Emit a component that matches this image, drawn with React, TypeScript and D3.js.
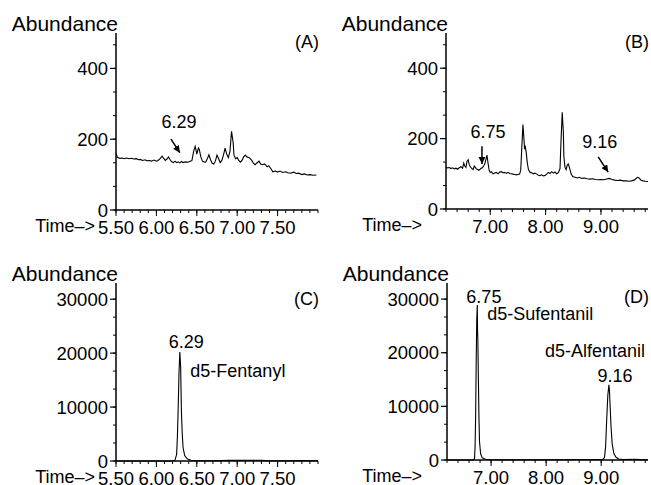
import { useEffect, useRef } from "react";
import * as d3 from "d3";

// chromatogram traces, [time (min), abundance]
const traceA: [number, number][] = [
  [5.5, 160], [5.52, 148], [5.55, 146], [5.58, 147], [5.6, 145], [5.63, 147], [5.66, 145], [5.69, 146],
  [5.72, 144], [5.75, 145], [5.78, 142], [5.8, 143], [5.83, 140], [5.86, 142], [5.88, 139], [5.91, 140],
  [5.94, 138], [5.97, 141], [6.0, 138], [6.02, 140], [6.05, 146], [6.07, 152], [6.09, 146], [6.11, 140],
  [6.13, 144], [6.15, 150], [6.17, 142], [6.19, 136], [6.21, 134], [6.23, 138], [6.25, 134], [6.27, 136],
  [6.29, 133], [6.31, 137], [6.33, 134], [6.36, 136], [6.39, 135], [6.42, 138], [6.44, 140], [6.46, 165],
  [6.48, 180], [6.49, 170], [6.5, 158], [6.52, 175], [6.53, 172], [6.55, 150], [6.57, 138], [6.59, 136],
  [6.61, 135], [6.63, 145], [6.65, 156], [6.67, 142], [6.69, 132], [6.71, 130], [6.73, 138], [6.75, 155],
  [6.77, 145], [6.79, 134], [6.81, 140], [6.83, 155], [6.85, 175], [6.87, 158], [6.89, 148], [6.91, 165],
  [6.93, 222], [6.95, 190], [6.96, 155], [6.98, 145], [7.0, 148], [7.02, 140], [7.04, 135], [7.06, 140],
  [7.08, 150], [7.1, 155], [7.12, 150], [7.15, 148], [7.18, 140], [7.2, 132], [7.22, 128], [7.24, 132],
  [7.27, 138], [7.29, 130], [7.31, 128], [7.34, 130], [7.37, 122], [7.39, 125], [7.42, 116], [7.44, 108],
  [7.47, 110], [7.5, 107], [7.53, 110], [7.56, 106], [7.6, 108], [7.63, 105], [7.66, 104], [7.7, 107],
  [7.73, 103], [7.76, 104], [7.8, 100], [7.83, 102], [7.87, 99], [7.9, 100], [7.94, 98], [7.98, 99],
];

const traceB: [number, number][] = [
  [6.2, 118], [6.23, 117], [6.26, 118], [6.29, 115], [6.32, 117], [6.35, 114], [6.38, 116], [6.41, 113],
  [6.44, 117], [6.47, 120], [6.5, 116], [6.52, 130], [6.54, 122], [6.56, 118], [6.58, 136], [6.6, 140],
  [6.62, 126], [6.64, 120], [6.66, 116], [6.69, 112], [6.71, 122], [6.73, 118], [6.75, 114], [6.77, 112],
  [6.79, 110], [6.81, 112], [6.83, 115], [6.86, 118], [6.88, 122], [6.9, 128], [6.92, 140], [6.94, 153],
  [6.96, 130], [6.98, 110], [7.0, 104], [7.02, 106], [7.05, 100], [7.08, 102], [7.11, 104], [7.14, 100],
  [7.17, 105], [7.2, 106], [7.23, 103], [7.26, 104], [7.29, 101], [7.32, 104], [7.35, 101], [7.38, 100],
  [7.41, 99], [7.44, 98], [7.47, 97], [7.5, 98], [7.53, 99], [7.55, 110], [7.57, 175], [7.59, 240],
  [7.61, 195], [7.62, 170], [7.63, 180], [7.65, 160], [7.67, 130], [7.69, 112], [7.72, 104], [7.75, 103],
  [7.78, 100], [7.81, 102], [7.84, 99], [7.87, 96], [7.9, 95], [7.93, 97], [7.96, 94], [7.99, 95],
  [8.02, 99], [8.05, 104], [8.08, 101], [8.11, 106], [8.14, 102], [8.17, 105], [8.2, 100], [8.23, 103],
  [8.26, 115], [8.28, 200], [8.3, 275], [8.32, 220], [8.33, 150], [8.35, 118], [8.37, 112], [8.39, 125],
  [8.41, 128], [8.43, 118], [8.46, 100], [8.49, 92], [8.53, 90], [8.57, 88], [8.61, 90], [8.65, 87],
  [8.7, 88], [8.75, 86], [8.8, 85], [8.85, 86], [8.9, 84], [8.95, 83], [9.0, 84], [9.05, 83], [9.1, 85],
  [9.15, 87], [9.2, 84], [9.25, 82], [9.3, 81], [9.35, 82], [9.4, 80], [9.45, 80], [9.5, 79], [9.55, 80],
  [9.6, 82], [9.63, 86], [9.66, 90], [9.69, 88], [9.72, 82], [9.76, 80], [9.8, 79], [9.85, 78],
];

const traceC: [number, number][] = [
  [5.5, 0], [6.2, 0], [6.23, 150], [6.25, 1200], [6.26, 4500], [6.27, 10000], [6.28, 16500], [6.29, 20200],
  [6.3, 17500], [6.305, 13000], [6.31, 9000], [6.32, 5000], [6.33, 2500], [6.35, 1000], [6.38, 400],
  [6.43, 150], [6.5, 60], [6.7, 60], [6.9, 120], [7.1, 150], [7.3, 140], [7.4, 60], [7.6, 40], [7.8, 100], [8.0, 60],
];

const traceD: [number, number][] = [
  [6.2, 0], [6.68, 0], [6.7, 300], [6.71, 2500], [6.72, 8000], [6.73, 18000], [6.74, 26000], [6.75, 28900],
  [6.755, 24000], [6.76, 22500], [6.77, 15000], [6.78, 8000], [6.79, 3500], [6.81, 1200], [6.84, 400],
  [6.9, 150], [7.0, 60], [8.0, 40], [8.6, 80], [8.9, 100], [9.03, 60], [9.06, 500], [9.08, 2500],
  [9.1, 7500], [9.12, 12000], [9.14, 14000], [9.15, 13000], [9.16, 10500], [9.18, 6000], [9.2, 3000],
  [9.23, 1200], [9.27, 500], [9.32, 200], [9.4, 100], [9.6, 120], [9.85, 60],
];

// tick labels
const xLabelsAC = ["5.50", "6.00", "6.50", "7.00", "7.50"];
const xLabelsBD = ["7.00", "8.00", "9.00"];
const yLabelsAB = ["0", "200", "400"];
const yLabelsCD = ["0", "10000", "20000", "30000"];

// peak annotations: [text, time, abundance]
const notesA: [string, number, number][] = [["6.29", 6.28, 232]];
const notesB: [string, number, number][] = [["6.75", 6.96, 202], ["9.16", 8.98, 173]];
const notesC: [string, number, number][] = [["6.29", 6.37, 20950]];
const notesD: [string, number, number][] = [["6.75", 6.87, 29270], ["9.16", 9.25, 14540]];
// compound names: [text, time, abundance] (left aligned)
const namesC: [string, number, number][] = [["d5-Fentanyl", 6.42, 15570]];
const namesD: [string, number, number][] = [["d5-Sufentanil", 6.93, 26100], ["d5-Alfentanil", 7.98, 19200]];
// arrows: [t0, v0, t1, v1]
const arrowsA: [number, number, number, number][] = [[6.18, 200, 6.29, 162]];
const arrowsB: [number, number, number, number][] = [[6.85, 178, 6.85, 128], [8.95, 148, 9.13, 105]];

const FONT = "'Liberation Sans', Arial, Helvetica, sans-serif";

const panels = [
  { tag: "(A)", trace: traceA, xd: [5.5, 8.0], yd: [0, 500], xr: [116, 318], yr: [210, 33], timeX: 95,
    xl: xLabelsAC, xMinor: 0.1, yl: yLabelsAB, yStep: 200, notes: notesA, names: [], arrows: arrowsA, tagY: 48 },
  { tag: "(B)", trace: traceB, xd: [6.2, 9.85], yd: [0, 500], xr: [446, 648], yr: [209, 33], timeX: 422,
    xl: xLabelsBD, xMinor: 0.2, yl: yLabelsAB, yStep: 200, notes: notesB, names: [], arrows: arrowsB, tagY: 48 },
  { tag: "(C)", trace: traceC, xd: [5.5, 8.0], yd: [0, 33000], xr: [116, 318], yr: [461, 283], timeX: 95,
    xl: xLabelsAC, xMinor: 0.1, yl: yLabelsCD, yStep: 10000, notes: notesC, names: namesC, arrows: [], tagY: 305 },
  { tag: "(D)", trace: traceD, xd: [6.2, 9.85], yd: [0, 33000], xr: [447, 648], yr: [460, 283], timeX: 422,
    xl: xLabelsBD, xMinor: 0.2, yl: yLabelsCD, yStep: 10000, notes: notesD, names: namesD, arrows: [], tagY: 303 },
];

const App = () => {
  const svgRef = useRef<SVGSVGElement>(null);

  useEffect(() => {
    const svg = d3.select(svgRef.current);
    svg.selectAll("*").remove();

    svg.append("defs").append("marker")
      .attr("id", "head")
      .attr("viewBox", "0 0 10 10")
      .attr("refX", 10).attr("refY", 5)
      .attr("markerWidth", 7).attr("markerHeight", 7)
      .attr("markerUnits", "userSpaceOnUse")
      .attr("orient", "auto")
      .append("path").attr("d", "M0,0 L10,5 L0,10 z").attr("fill", "#000");

    panels.forEach((p) => {
      const x = d3.scaleLinear().domain(p.xd).range(p.xr);
      const y = d3.scaleLinear().domain(p.yd).range(p.yr);
      const g = svg.append("g").attr("font-family", FONT).attr("fill", "#000");

      // axis lines
      g.append("line").attr("x1", p.xr[0]).attr("x2", p.xr[0]).attr("y1", p.yr[0]).attr("y2", p.yr[1])
        .attr("stroke", "#000").attr("stroke-width", 1.5);
      g.append("line").attr("x1", p.xr[0]).attr("x2", p.xr[1]).attr("y1", p.yr[0]).attr("y2", p.yr[0])
        .attr("stroke", "#000").attr("stroke-width", 1.5);

      // x ticks
      const xMinors = d3.range(p.xd[0], p.xd[1] + 1e-6, p.xMinor);
      g.selectAll(".xmin").data(xMinors).enter().append("line")
        .attr("x1", (d) => x(d)).attr("x2", (d) => x(d))
        .attr("y1", p.yr[0]).attr("y2", p.yr[0] + 3)
        .attr("stroke", "#000").attr("stroke-width", 1);
      g.selectAll(".xmaj").data(p.xl).enter().append("line")
        .attr("x1", (d) => x(+d)).attr("x2", (d) => x(+d))
        .attr("y1", p.yr[0]).attr("y2", p.yr[0] + 6)
        .attr("stroke", "#000").attr("stroke-width", 1);
      g.selectAll(".xlab").data(p.xl).enter().append("text")
        .attr("x", (d) => x(+d)).attr("y", p.yr[0] + 24)
        .attr("text-anchor", "middle").attr("font-size", 18.5).text((d) => d);

      // y ticks
      const yMinors = d3.range(p.yd[0], p.yd[1], p.yStep / 3);
      g.selectAll(".ymin").data(yMinors).enter().append("line")
        .attr("x1", p.xr[0] - 3).attr("x2", p.xr[0])
        .attr("y1", (d) => y(d)).attr("y2", (d) => y(d))
        .attr("stroke", "#000").attr("stroke-width", 1);
      g.selectAll(".ymaj").data(p.yl).enter().append("line")
        .attr("x1", p.xr[0] - 6).attr("x2", p.xr[0])
        .attr("y1", (d) => y(+d)).attr("y2", (d) => y(+d))
        .attr("stroke", "#000").attr("stroke-width", 1.2);
      g.selectAll(".ylab").data(p.yl).enter().append("text")
        .attr("x", p.xr[0] - 8).attr("y", (d) => y(+d)).attr("dy", "0.36em")
        .attr("text-anchor", "end").attr("font-size", 18.5).text((d) => d);

      // titles
      g.append("text").attr("x", p.xr[0] + 2).attr("y", p.yr[1] - 2)
        .attr("text-anchor", "end").attr("font-size", 21).text("Abundance");
      g.append("text").attr("x", p.timeX).attr("y", p.yr[0] + 22)
        .attr("text-anchor", "end").attr("font-size", 18).text("Time–>");
      g.append("text").attr("x", p.xr[1] + 1).attr("y", p.tagY)
        .attr("text-anchor", "end").attr("font-size", 18).text(p.tag);

      // trace
      const line = d3.line<[number, number]>().x((d) => x(d[0])).y((d) => y(d[1]));
      g.append("path").datum(p.trace).attr("d", line)
        .attr("fill", "none").attr("stroke", "#000").attr("stroke-width", 1.1);

      // annotations
      g.selectAll(".note").data(p.notes).enter().append("text")
        .attr("x", (d) => x(d[1])).attr("y", (d) => y(d[2]))
        .attr("text-anchor", "middle").attr("font-size", 18).text((d) => d[0]);
      g.selectAll(".name").data(p.names as [string, number, number][]).enter().append("text")
        .attr("x", (d) => x(d[1])).attr("y", (d) => y(d[2]))
        .attr("font-size", 18).text((d) => d[0]);
      g.selectAll(".arrow").data(p.arrows as [number, number, number, number][]).enter().append("line")
        .attr("x1", (d) => x(d[0])).attr("y1", (d) => y(d[1]))
        .attr("x2", (d) => x(d[2])).attr("y2", (d) => y(d[3]))
        .attr("stroke", "#000").attr("stroke-width", 1.5).attr("marker-end", "url(#head)");
    });
  }, []);

  return (
    <svg ref={svgRef} width={651} height={485}
      style={{ position: "absolute", left: 0, top: 0, background: "#fff" }} />
  );
};

export default App;
